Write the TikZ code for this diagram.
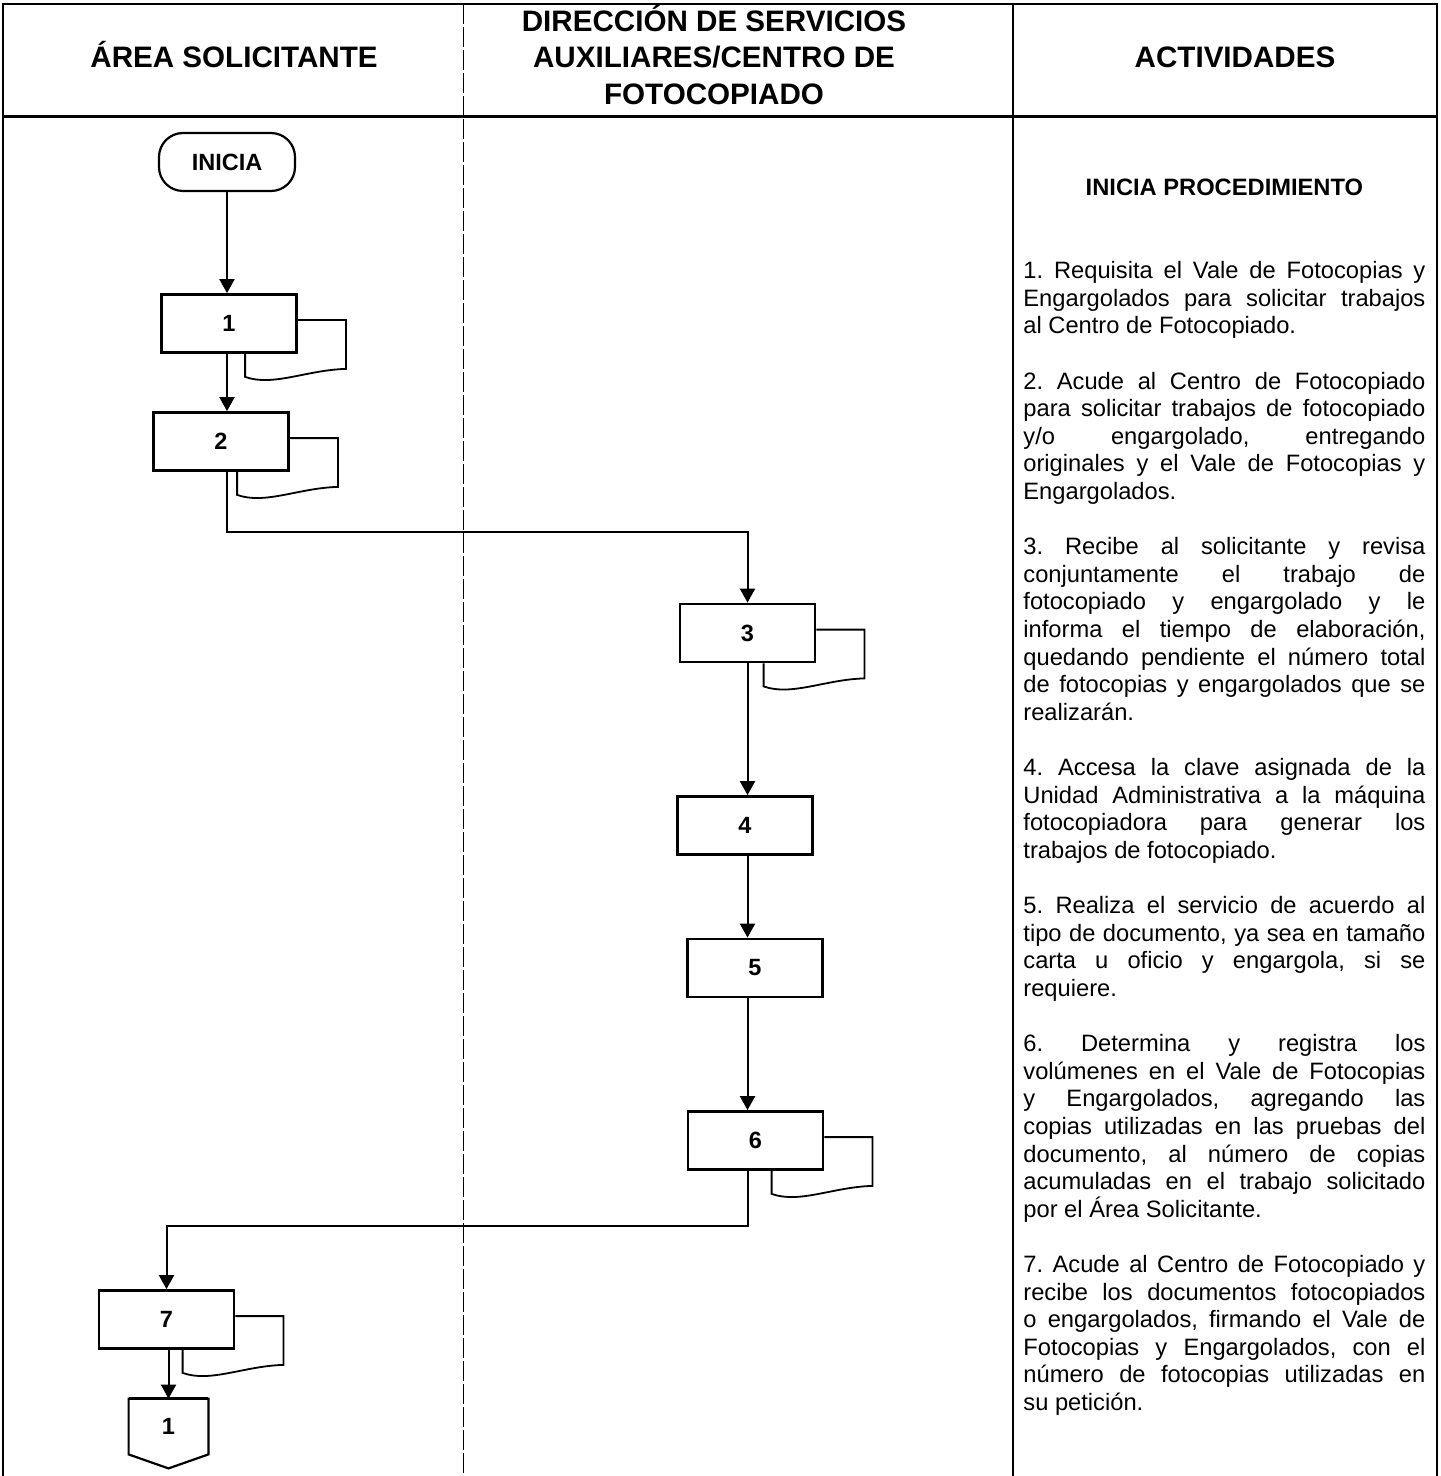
\documentclass[tikz,border=0pt]{standalone}
\usepackage{fontspec}
\setmainfont{Liberation Sans}
\usetikzlibrary{arrows.meta,calc}
\tikzset{
  box/.style={draw, line width=1.4pt, minimum width=67.5pt, minimum height=29pt, inner sep=0pt,
    font=\fontsize{11.75}{13}\selectfont\bfseries},
  term/.style={box, line width=1.1pt, rounded corners=12pt, minimum width=68pt},
  offpage/.style={minimum width=39.5pt, minimum height=27.5pt, inner sep=0pt,
    font=\fontsize{11.75}{13}\selectfont\bfseries},
  arr/.style={line width=1pt, -{Triangle[length=7pt,width=7.5pt]}},
  docline/.style={line width=0.9pt},
  shapeline/.style={line width=1.1pt},
  hdr/.style={font=\fontsize{14.8}{18}\selectfont\bfseries, anchor=base, inner sep=0pt},
  frameline/.style={line width=1.2pt},
  lanesep/.style={line width=0.5pt, dash pattern=on 10pt off 1.5pt},
}
\newcommand{\docsh}[1]{%
  \draw[docline] ($(#1.north east)+(0,27)$) -- ($(#1.north east)+(48,27)$)
    -- ($(#1.south east)+(48,15)$)
    .. controls ($(#1.south east)+(9,16)$) and ($(#1.south west)+(113,33)$) ..
    ($(#1.south west)+(85,23)$) -- ($(#1.south west)+(85,0)$);}
\begin{document}
\begin{tikzpicture}[x=0.5pt,y=-0.5pt]
\useasboundingbox (0,0) rectangle (1440,1476);
% table frame
\draw[frameline] (3,1476) -- (3,4) -- (1437,4) -- (1437,1476);
\draw[frameline] (1013,4) -- (1013,1476);
\draw[lanesep] (463,4) -- (463,1476);
\draw[line width=1.5pt] (3,117) -- (1437,117);
% headers
\node[hdr] (h1) at (234,68) {ÁREA SOLICITANTE};
\node[hdr] (h2a) at (714,32) {DIRECCIÓN DE SERVICIOS};
\node[hdr] (h2b) at (714,68) {AUXILIARES/CENTRO DE};
\node[hdr] (h2c) at (714,105) {FOTOCOPIADO};
\node[hdr] (h3) at (1235,68) {ACTIVIDADES};
% flow nodes
\node[term] (ini) at (227,162) {INICIA};
\node[box] (b1) at (229,323.5) {1};
\node[box] (b2) at (221,441.5) {2};
\node[box] (b3) at (747.5,633) {3};
\node[box] (b4) at (745,825.5) {4};
\node[box] (b5) at (755,968) {5};
\node[box] (b6) at (755.5,1140.5) {6};
\node[box] (b7) at (166.5,1319.5) {7};
\node[offpage] (c7) at (168.5,1426.5) {1};
\draw[shapeline] (c7.north west) -- (c7.north east) -- (c7.south east)
  -- ($(c7.south)+(0,14)$) -- (c7.south west) -- cycle;
\draw[line width=1.8pt] (c7.north west) -- (c7.north east);
% documents
\docsh{b1}
\docsh{b2}
\docsh{b3}
\docsh{b6}
\docsh{b7}
% connectors
\coordinate (k1) at (227,532);
\coordinate (k2) at (748,1226);
\draw[arr] (ini.south) -- (ini.south |- b1.north);
\draw[arr] (ini.south |- b1.south) -- (ini.south |- b2.north);
\draw[arr] (b2.south -| k1) -- (k1) -| (b3.north);
\draw[arr] (b3.south) -- (b3.south |- b4.north);
\draw[arr] (b4.south -| b3.south) -- (b3.south |- b5.north);
\draw[arr] (b5.south -| b3.south) -- (b3.south |- b6.north);
\draw[arr] (b6.south -| k2) -- (k2) -| (b7.north);
\draw[arr] (b7.south -| c7.north) -- (c7.north);
% activities
\node[anchor=base west, text width=201pt, inner sep=0pt, align=justify,
  font=\fontsize{11.85}{13.8}\selectfont] (act) at (1023,196) {%
\frenchspacing\tolerance=10000 \hyphenpenalty=10000 \exhyphenpenalty=10000
{\centering\bfseries INICIA PROCEDIMIENTO\par}
\vspace{2\baselineskip}
1. Requisita el Vale de Fotocopias y\linebreak
Engargolados para solicitar trabajos\linebreak
al Centro de Fotocopiado.\par
\vspace{\baselineskip}
2. Acude al Centro de Fotocopiado\linebreak
para solicitar trabajos de fotocopiado\linebreak
y/o engargolado, entregando\linebreak
originales y el Vale de Fotocopias y\linebreak
Engargolados.\par
\vspace{\baselineskip}
3. Recibe al solicitante y revisa\linebreak
conjuntamente el trabajo de\linebreak
fotocopiado y engargolado y le\linebreak
informa el tiempo de elaboración,\linebreak
quedando pendiente el número total\linebreak
de fotocopias y engargolados que se\linebreak
realizarán.\par
\vspace{\baselineskip}
4. Accesa la clave asignada de la\linebreak
Unidad Administrativa a la máquina\linebreak
fotocopiadora para generar los\linebreak
trabajos de fotocopiado.\par
\vspace{\baselineskip}
5. Realiza el servicio de acuerdo al\linebreak
tipo de documento, ya sea en tamaño\linebreak
carta u oficio y engargola, si se\linebreak
requiere.\par
\vspace{\baselineskip}
6. Determina y registra los\linebreak
volúmenes en el Vale de Fotocopias\linebreak
y Engargolados, agregando las\linebreak
copias utilizadas en las pruebas del\linebreak
documento, al número de copias\linebreak
acumuladas en el trabajo solicitado\linebreak
por el Área Solicitante.\par
\vspace{\baselineskip}
7. Acude al Centro de Fotocopiado y\linebreak
recibe los documentos fotocopiados\linebreak
o engargolados, firmando el Vale de\linebreak
Fotocopias y Engargolados, con el\linebreak
número de fotocopias utilizadas en\linebreak
su petición.\par};
\end{tikzpicture}
\end{document}
